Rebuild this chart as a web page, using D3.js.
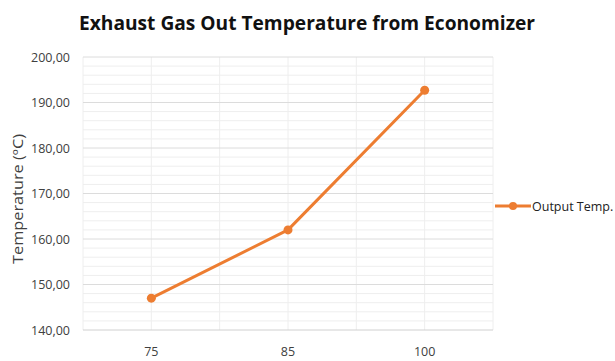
<!DOCTYPE html>
<html>
<head>
<meta charset="utf-8">
<script src="https://cdn.jsdelivr.net/npm/d3@7"></script>
<style>
  html, body { margin: 0; padding: 0; background: #fff; }
  svg { display: block; }
</style>
</head>
<body>
<svg id="chart" width="615" height="361"></svg>
<script>
// Load levels and measured exhaust gas temperature leaving the economizer
const categories = ["75", "85", "100"];
const outputTemp = [147.0, 162.0, 192.7];
const seriesName = "Output Temp.";
const yTicks = [140, 150, 160, 170, 180, 190, 200];

const W = 615, H = 361;
const plot = { left: 83, right: 493, top: 57, bottom: 330 };
const orange = "#ED7D31";

const svg = d3.select("#chart");
const fmt = v => d3.format(".2f")(v).replace(".", ",");

const x = d3.scaleBand().domain(categories).range([plot.left, plot.right]);
const y = d3.scaleLinear().domain([140, 200]).range([plot.bottom, plot.top]);

// minor horizontal grid every 2 units
const minor = d3.range(140, 200.1, 2).filter(v => v % 10 !== 0);
svg.append("g").selectAll("line").data(minor).join("line")
  .attr("x1", plot.left).attr("x2", plot.right)
  .attr("y1", d => y(d)).attr("y2", d => y(d))
  .attr("stroke", "#eeeeee").attr("stroke-width", 1);

// vertical grid at band edges and centres
const vlines = [];
categories.forEach(c => { vlines.push(x(c)); vlines.push(x(c) + x.bandwidth() / 2); });
vlines.push(plot.right);
svg.append("g").selectAll("line").data(vlines).join("line")
  .attr("x1", d => d).attr("x2", d => d)
  .attr("y1", plot.top).attr("y2", plot.bottom)
  .attr("stroke", "#eeeeee").attr("stroke-width", 1);

// major horizontal grid
svg.append("g").selectAll("line").data(yTicks).join("line")
  .attr("x1", plot.left).attr("x2", plot.right)
  .attr("y1", d => y(d)).attr("y2", d => y(d))
  .attr("stroke", d => d === 140 ? "#d0d0d0" : "#dcdcdc").attr("stroke-width", 1);

// y axis labels
const yAxis = d3.axisLeft(y).tickValues(yTicks).tickFormat(fmt).tickSize(0).tickPadding(13);
const yg = svg.append("g").attr("transform", `translate(${plot.left},0)`).call(yAxis);
yg.select(".domain").remove();
yg.selectAll("text").attr("font-family", "Open Sans, sans-serif").attr("font-size", 12.5).attr("fill", "#404040");

// x axis labels
const xAxis = d3.axisBottom(x).tickSize(0).tickPadding(17);
const xg = svg.append("g").attr("transform", `translate(0,${plot.bottom})`).call(xAxis);
xg.select(".domain").remove();
xg.selectAll("text").attr("font-family", "Open Sans, sans-serif").attr("font-size", 12.5).attr("fill", "#404040");

// series line
const cx = (d, i) => x(categories[i]) + x.bandwidth() / 2;
const line = d3.line().x(cx).y(d => y(d));
svg.append("path").datum(outputTemp)
  .attr("d", line).attr("fill", "none")
  .attr("stroke", orange).attr("stroke-width", 3).attr("stroke-linejoin", "round");
svg.append("g").selectAll("circle").data(outputTemp).join("circle")
  .attr("cx", cx).attr("cy", d => y(d)).attr("r", 4.5).attr("fill", orange);

// title
svg.append("text").attr("x", 307).attr("y", 30).attr("text-anchor", "middle")
  .attr("font-family", "Open Sans, sans-serif").attr("font-weight", "bold")
  .attr("font-size", 19).attr("fill", "#111")
  .attr("textLength", 456).attr("lengthAdjust", "spacingAndGlyphs")
  .text("Exhaust Gas Out Temperature from Economizer");

// y axis title
svg.append("text").attr("transform", `translate(23,199) rotate(-90)`)
  .attr("text-anchor", "middle").attr("font-family", "Open Sans, sans-serif")
  .attr("font-size", 14).attr("fill", "#404040")
  .attr("textLength", 130).attr("lengthAdjust", "spacingAndGlyphs")
  .text("Temperature (ºC)");

// legend
const lg = svg.append("g").attr("transform", "translate(495,206)");
lg.append("line").attr("x1", 0).attr("x2", 36).attr("y1", 0).attr("y2", 0)
  .attr("stroke", orange).attr("stroke-width", 3);
lg.append("circle").attr("cx", 18).attr("cy", 0).attr("r", 4).attr("fill", orange);
lg.append("text").attr("x", 37).attr("y", 4.5)
  .attr("font-family", "Open Sans, sans-serif").attr("font-size", 12.5).attr("fill", "#222")
  .text(seriesName);
</script>
</body>
</html>
